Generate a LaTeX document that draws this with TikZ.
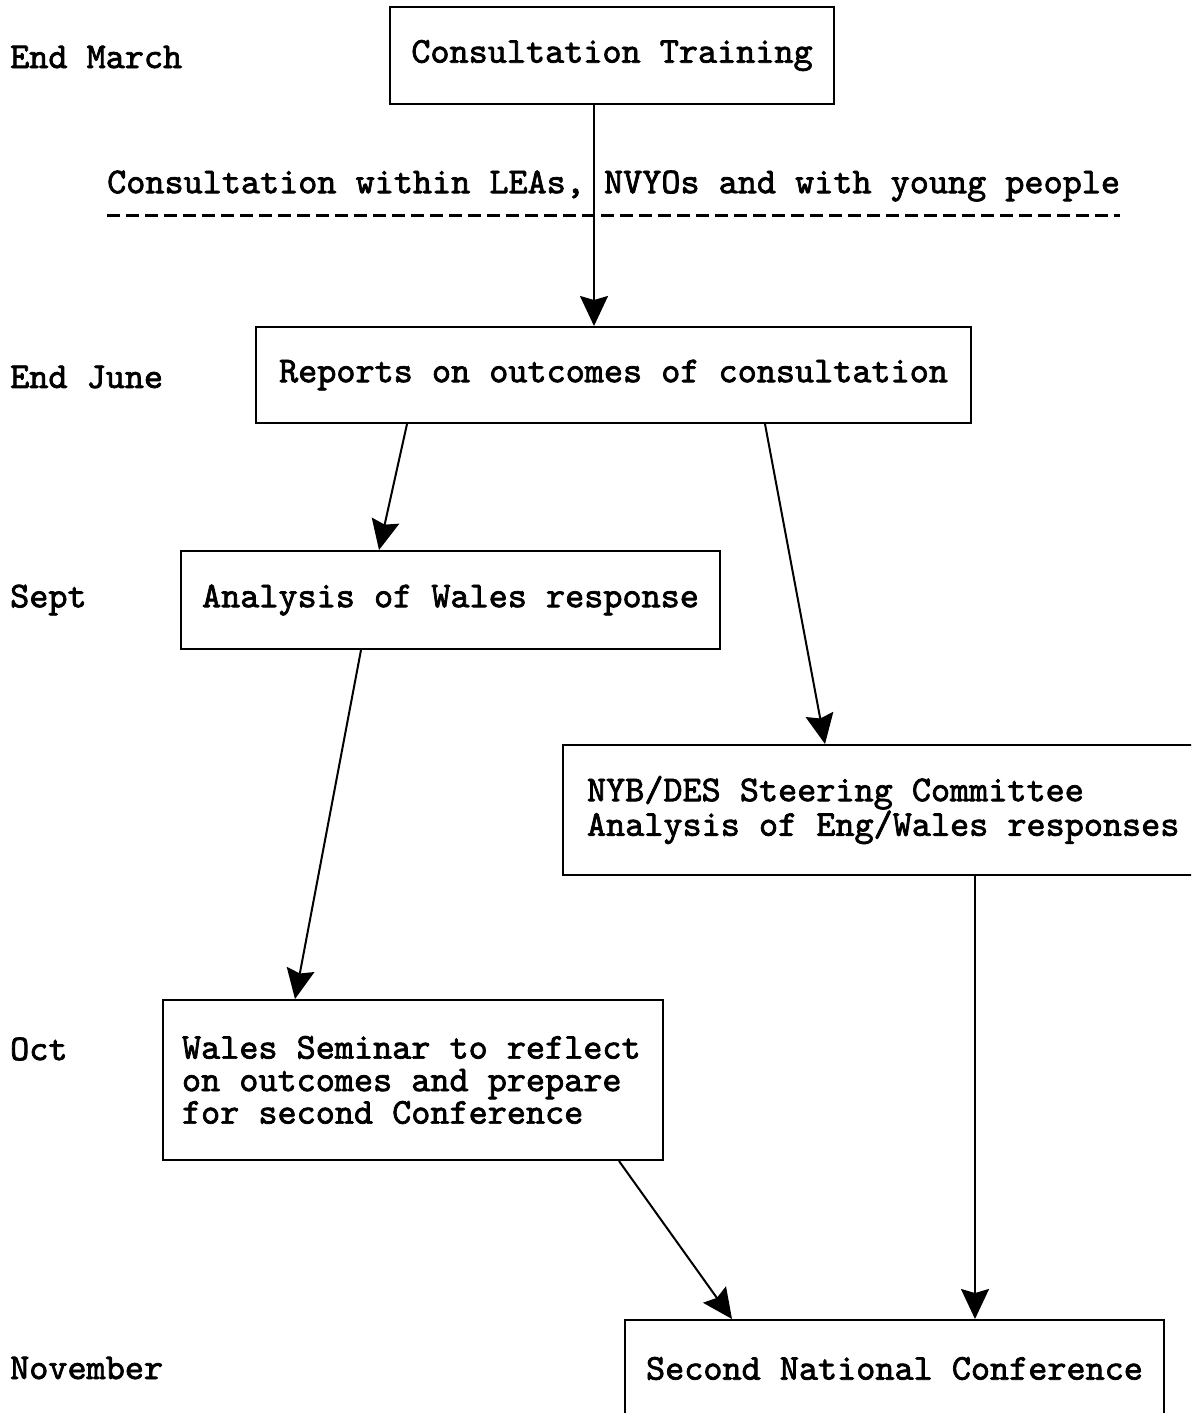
\documentclass[tikz,border=0pt]{standalone}
\usepackage{fontspec}
\setmonofont{lmmono10-regular.otf}[FakeBold=2]
\usetikzlibrary{arrows.meta,calc}
\newcommand\diagfont{\ttfamily\fontsize{36.4}{32.5}\selectfont}
\begin{document}
\begin{tikzpicture}[x=1pt,y=-1pt,
  every node/.style={font=\diagfont},
  box/.style={draw,line width=2pt,inner sep=0pt,align=center},
  lbox/.style={draw,line width=2pt,inner ysep=0pt,align=left,
    execute at begin node={\spaceskip=0pt\xspaceskip=0pt\relax}},
  datelbl/.style={anchor=west,inner sep=0pt},
  conn/.style={line width=2pt,-{Stealth[length=30pt,width=28pt,inset=4pt]}}]
\lineskiplimit=-100pt\relax
\clip (0,0) rectangle (1191,1413);
\fill[white] (0,0) rectangle (1191,1413);
% boxes
\node[box,minimum width=444pt,minimum height=97pt] (b1) at (612,55.5) {Consultation Training};
\node[box,minimum width=715pt,minimum height=96pt] (b2) at (613.5,375) {Reports on outcomes of consultation};
\node[box,minimum width=539pt,minimum height=98pt] (b3) at (450.5,600) {Analysis of Wales response};
\node[lbox,text width=604pt,inner xsep=24pt,minimum height=130pt] (b4) at (889,810) {NYB/DES Steering Committee\\Analysis of Eng/Wales responses};
\node[lbox,text width=462pt,inner xsep=19pt,minimum height=160pt] (b5) at (413,1080) {Wales Seminar to reflect\\on outcomes and prepare\\for second Conference};
\node[box,minimum width=539pt,minimum height=97pt] (b6) at (894.5,1368.5) {Second National Conference};
% date labels
\node[datelbl] (d1) at (10,57) {End March};
\node[datelbl] (d2) at (10,377) {End June};
\node[datelbl] (d3) at (10,600) {Sept};
\node[datelbl] (d4) at (10,1049) {Oct};
\node[datelbl] (d5) at (10,1368) {November};
% consultation note
\node[anchor=west,inner sep=0pt] (note) at (107,186) {Consultation within LEAs, NVYOs and with young people};
\draw[line width=3pt,dash pattern=on 13pt off 6pt] ([yshift=-22pt]note.base west) -- ([yshift=-22pt]note.base east);
% connectors
\draw[conn] ([xshift=-18pt]b1.south) -- ([xshift=-19.5pt]b2.north);
\draw[conn] ([xshift=152pt]b2.south west) -- ([xshift=199pt]b3.north west);
\draw[conn] ([xshift=510pt]b2.south west) -- ([xshift=263pt]b4.north west);
\draw[conn] ([xshift=181pt]b3.south west) -- ([xshift=133pt]b5.north west);
\draw[conn] ([xshift=413pt]b4.south west) -- ([xshift=351pt]b6.north west);
\draw[conn] ([xshift=457pt]b5.south west) -- ([xshift=108pt]b6.north west);
\end{tikzpicture}
\end{document}
